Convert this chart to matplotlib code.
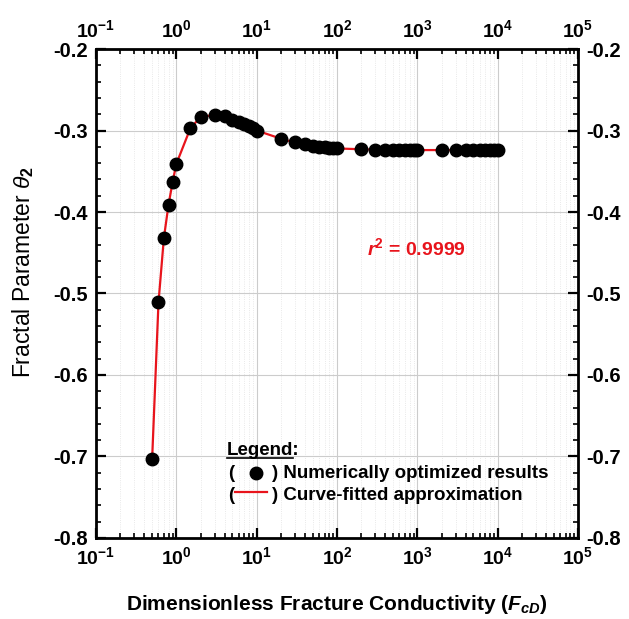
import numpy as np
import matplotlib
matplotlib.use("Agg")
import matplotlib.pyplot as plt
from matplotlib.ticker import FixedLocator, MultipleLocator, FormatStrFormatter, NullFormatter

plt.rcParams["font.family"] = ["Liberation Sans", "DejaVu Sans"]
plt.rcParams["axes.unicode_minus"] = False
plt.rcParams["mathtext.fontset"] = "custom"
plt.rcParams["mathtext.rm"] = "Liberation Sans:bold"
plt.rcParams["mathtext.bf"] = "Liberation Sans:bold"
plt.rcParams["mathtext.it"] = "Liberation Sans:italic"
plt.rcParams["mathtext.bfit"] = "Liberation Sans:bold:italic"

# numerically optimized theta_2 vs FcD
fcd = [0.5, 0.6, 0.7, 0.8, 0.9, 1, 1.5, 2, 3, 4, 5, 6, 7, 8, 9, 10,
       20, 30, 40, 50, 60, 70, 80, 90, 100,
       200, 300, 400, 500, 600, 700, 800, 900, 1000,
       2000, 3000, 4000, 5000, 6000, 7000, 8000, 9000, 10000]
theta2 = [-0.703, -0.511, -0.432, -0.391, -0.363, -0.341, -0.297, -0.2836, -0.2807, -0.282,
          -0.287, -0.2897, -0.292, -0.2946, -0.297, -0.300,
          -0.310, -0.3147, -0.3167, -0.3188, -0.3198, -0.3205, -0.321, -0.3215, -0.322,
          -0.323, -0.3235, -0.3238, -0.324, -0.324, -0.324, -0.324, -0.324, -0.324,
          -0.324, -0.324, -0.324, -0.324, -0.324, -0.324, -0.324, -0.324, -0.324]
# curve-fitted approximation passes through the same points
fit_y = theta2

decades = [0.1, 1, 10, 100, 1000, 10000, 100000]
xlabels = [r"$\mathdefault{10^{%d}}$" % e for e in range(-1, 6)]

fig = plt.figure(figsize=(6.29, 6.19), dpi=100)
ax = fig.add_axes([0.1526, 0.1309, 0.7663, 0.7899])

ax.plot(fcd, fit_y, color="#e8141c", lw=1.6, zorder=2)
ax.plot(fcd, theta2, "o", color="black", ms=9, zorder=3)

ax.set_xscale("log")
ax.set_xlim(0.1, 1e5)
ax.set_ylim(-0.8, -0.2)
minors = [d * s for d in decades[:-1] for s in range(2, 10)]
ax.xaxis.set_major_locator(FixedLocator(decades))
ax.set_xticklabels(xlabels)
ax.xaxis.set_minor_locator(FixedLocator(minors))
ax.xaxis.set_minor_formatter(NullFormatter())
ax.yaxis.set_major_locator(MultipleLocator(0.1))
ax.yaxis.set_minor_locator(MultipleLocator(0.02))
ax.yaxis.set_major_formatter(FormatStrFormatter("%.1f"))

ax.tick_params(which="both", direction="in", top=True, right=True,
               labeltop=True, labelright=True, pad=6)
ax.tick_params(axis="x", labelsize=14)
ax.tick_params(axis="y", labelsize=14.5)
ax.tick_params(which="major", length=7, width=1.6)
ax.tick_params(which="minor", length=3.5, width=1.2)
for lab in ax.xaxis.get_ticklabels(which="major") + ax.yaxis.get_ticklabels(which="major"):
    lab.set_fontweight("bold")
for side in ax.spines.values():
    side.set_linewidth(2)

ax.set_axisbelow(True)
ax.grid(which="major", color="#cccccc", lw=0.8)
ax.grid(which="minor", axis="x", color="#e2e2e2", lw=0.6, ls=":")

ax.set_xlabel(r"Dimensionless Fracture Conductivity ($\mathbfit{F_{cD}}$)",
              fontsize=15, fontweight="bold", labelpad=18)
ax.set_ylabel(r"Fractal Parameter $\theta_{\mathit{2}}$", fontsize=16.5)
ax.yaxis.set_label_coords(-0.125, 0.544)

ax.text(0.562, 0.579, r"$\mathbfit{r}^{\mathbf{2}}$ = 0.9999", transform=ax.transAxes,
        color="#e8141c", fontsize=14, fontweight="bold", va="baseline")

# hand-made legend
fs = 13.5
ax.text(0.272, 0.170, "Legend:", transform=ax.transAxes, fontsize=fs,
        fontweight="bold", va="baseline")
# measure the word alone to size the underline, then drop it
probe = ax.text(0.272, 0.170, "Legend", transform=ax.transAxes, fontsize=fs,
                fontweight="bold", va="baseline")
fig.canvas.draw()
bb = probe.get_window_extent().transformed(ax.transAxes.inverted())
probe.remove()
ax.plot([bb.x0, bb.x1 - 0.002], [0.164, 0.164], color="black", lw=1.2,
        transform=ax.transAxes, clip_on=False)

ax.text(0.274, 0.1227, "(", transform=ax.transAxes, fontsize=fs,
        fontweight="bold", va="baseline")
ax.plot([0.333], [0.1323], "o", color="black", ms=9, transform=ax.transAxes, clip_on=False)
ax.text(0.365, 0.1227, ") Numerically optimized results", transform=ax.transAxes,
        fontsize=fs, fontweight="bold", va="baseline")

ax.text(0.274, 0.0777, "(", transform=ax.transAxes, fontsize=fs,
        fontweight="bold", va="baseline")
ax.plot([0.288, 0.355], [0.0947, 0.0947], color="#e8141c", lw=1.6,
        transform=ax.transAxes, clip_on=False)
ax.text(0.365, 0.0777, ") Curve-fitted approximation", transform=ax.transAxes,
        fontsize=fs, fontweight="bold", va="baseline")

fig.savefig("out.png", dpi=100)
